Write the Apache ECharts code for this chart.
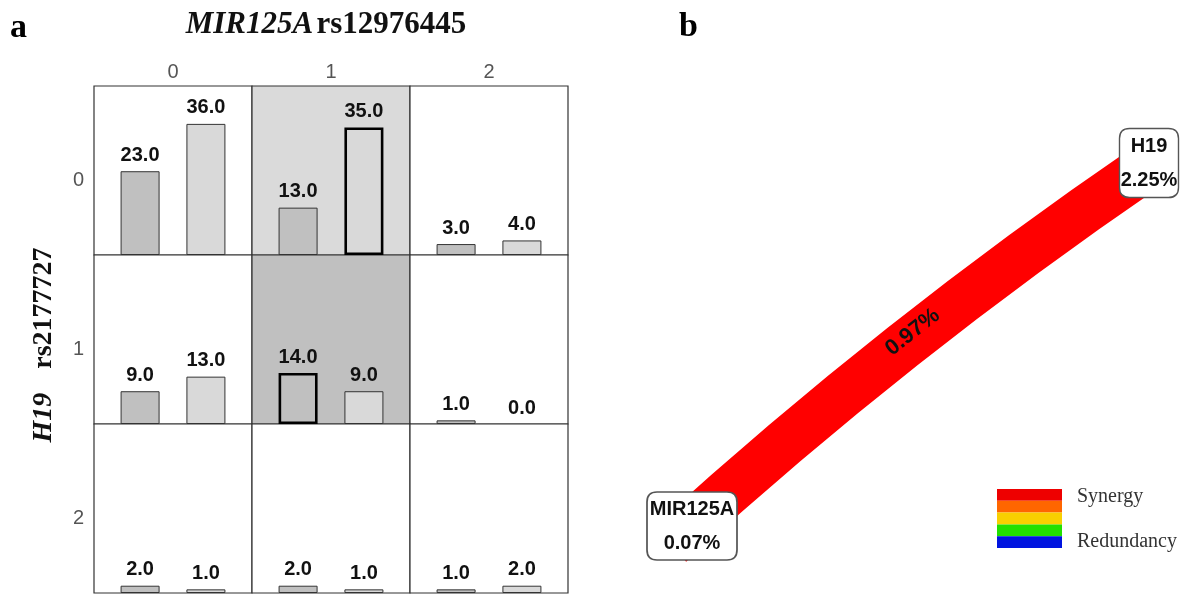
<!DOCTYPE html>
<html><head><meta charset="utf-8">
<script src="https://cdn.jsdelivr.net/npm/echarts@6/dist/echarts.min.js"></script>
<style>html,body{margin:0;padding:0;background:#fff}#c{width:1182px;height:596px}</style>
</head><body><div id="c"></div>
<script>
// ---- data ----
const mirGenotypes = ['0', '1', '2'];            // columns: MIR125A rs12976445
const h19Genotypes = ['0', '1', '2'];            // rows: H19 rs2177727
const caseCounts    = [[23, 13, 3], [9, 14, 1], [2, 2, 1]];
const controlCounts = [[36, 35, 4], [13, 9, 0], [1, 1, 2]];
const cellRisk = [['', 'low', ''], ['', 'high', ''], ['', '', '']];
const nodeNames = ['MIR125A', 'H19'];
const nodeEntropy = [0.07, 2.25];
const nodeX = [10, 105.6];
const nodeY = [10.4, 86];
const edgeEntropy = [0.97];
const legendLabels = ['Synergy', 'Redundancy'];

// ---- layout ----
const GX = 94, GY = 86, CW = 158, CH = 169;
const SANS = '"Liberation Sans", Arial, sans-serif';
const SERIF = '"Liberation Serif", "Times New Roman", serif';

const grids = [], xAxes = [], yAxes = [], series = [];
for (let r = 0; r < 3; r++) {
  for (let c = 0; c < 3; c++) {
    const idx = r * 3 + c;
    const risk = cellRisk[r][c];
    grids.push({
      left: GX + c * CW, top: GY + r * CH, width: CW, height: CH,
      show: true, borderColor: '#333', borderWidth: 1.2,
      backgroundColor: risk === 'low' ? '#dadada' : (risk === 'high' ? '#c0c0c0' : '#ffffff')
    });
    xAxes.push({
      type: 'value', gridIndex: idx, min: -0.7, max: 1.7, position: 'top',
      name: r === 0 ? mirGenotypes[c] : '', nameLocation: 'middle', nameGap: 4,
      nameTextStyle: { fontFamily: SANS, fontSize: 20, color: '#555' },
      axisLine: { show: false }, axisTick: { show: false }, axisLabel: { show: false }, splitLine: { show: false }
    });
    yAxes.push({
      type: 'value', gridIndex: idx, min: 0, max: 46.4,
      name: c === 0 ? h19Genotypes[r] : '', nameLocation: 'middle', nameRotate: 0, nameGap: 10,
      nameTextStyle: { fontFamily: SANS, fontSize: 20, color: '#555', verticalAlign: 'top' },
      axisLine: { show: false }, axisTick: { show: false }, axisLabel: { show: false }, splitLine: { show: false }
    });
    const cv = caseCounts[r][c], kv = controlCounts[r][c];
    const shaded = risk !== '';
    const boldCase = shaded && cv > kv, boldCtrl = shaded && kv >= cv;
    const bw = (v, bold) => v === 0 ? 0 : (bold ? 2.6 : 1);
    series.push({
      type: 'bar', xAxisIndex: idx, yAxisIndex: idx, barWidth: 39, silent: true,
      data: [
        { value: [0, cv], itemStyle: { color: '#c0c0c0', borderColor: boldCase ? '#000' : '#333', borderWidth: bw(cv, boldCase) } },
        { value: [1, kv], itemStyle: { color: '#d9d9d9', borderColor: boldCtrl ? '#000' : '#333', borderWidth: bw(kv, boldCtrl) } }
      ],
      label: {
        show: true, position: 'top', distance: 6,
        formatter: p => p.value[1].toFixed(1),
        fontFamily: SANS, fontWeight: 'bold', fontSize: 20, color: '#111'
      }
    });
  }
}

// right panel: interaction graph
grids.push({ left: 620, top: 96, width: 560, height: 500, show: false });
xAxes.push({ type: 'value', gridIndex: 9, min: 0, max: 112, show: false });
yAxes.push({ type: 'value', gridIndex: 9, min: 0, max: 100, show: false });

function rr(w, h, r) {
  return `path://M${r},0H${w - r}Q${w},0 ${w},${r}V${h - r}Q${w},${h} ${w - r},${h}H${r}Q0,${h} 0,${h - r}V${r}Q0,0 ${r},0Z`;
}
const boxSizes = [[90, 68], [59, 69]];
const boxOffsets = [[22, -18], [1, -3]];

series.push({
  type: 'lines', coordinateSystem: 'cartesian2d', xAxisIndex: 9, yAxisIndex: 9, silent: true, z: 2,
  data: [{ coords: [[nodeX[0], nodeY[0]], [nodeX[1], nodeY[1]]], value: edgeEntropy[0] }],
  lineStyle: { color: '#ff0000', width: 48, opacity: 1, curveness: 0.035, cap: 'butt' },
  label: {
    show: true, position: 'middle', distance: -6,
    padding: [0, 0, 0, 34],
    formatter: p => p.value.toFixed(2) + '%',
    fontFamily: SANS, fontWeight: 'bold', fontSize: 22, color: '#111'
  }
});
series.push({
  type: 'scatter', xAxisIndex: 9, yAxisIndex: 9, silent: true, z: 5,
  data: nodeNames.map((n, i) => ({
    name: n, value: [nodeX[i], nodeY[i]], pct: nodeEntropy[i],
    symbol: rr(boxSizes[i][0], boxSizes[i][1], 10),
    symbolSize: boxSizes[i], symbolOffset: boxOffsets[i]
  })),
  itemStyle: { color: '#ffffff', borderColor: '#555', borderWidth: 1.5, opacity: 1 },
  label: {
    show: true, position: 'inside',
    formatter: p => p.name + '\n' + p.data.pct.toFixed(2) + '%',
    fontFamily: SANS, fontWeight: 'bold', fontSize: 20, lineHeight: 34, color: '#111'
  }
});

// legend stripes
const stripeColors = ['#ee0000', '#ff6600', '#f8d000', '#22e000', '#0014e0'];
const graphics = [
  { type: 'text', left: 10, top: 11, style: { text: 'a', font: 'bold 34px ' + SERIF, fill: '#000' } },
  { type: 'text', left: 679, top: 10, style: { text: 'b', font: 'bold 34px ' + SERIF, fill: '#000' } },
  {
    type: 'text', x: 326, y: 25,
    style: {
      text: '{i|MIR125A} {b|rs12976445}', align: 'center', verticalAlign: 'middle',
      rich: {
        i: { fontFamily: SERIF, fontSize: 31, fontWeight: 'bold', fontStyle: 'italic', fill: '#111' },
        b: { fontFamily: SERIF, fontSize: 31, fontWeight: 'bold', fill: '#111' }
      }
    }
  },
  {
    type: 'text', x: 44, y: 345, rotation: Math.PI / 2,
    style: {
      text: '{i|H19}{b|rs2177727}', align: 'center', verticalAlign: 'middle',
      rich: {
        i: { fontFamily: SERIF, fontSize: 28, fontWeight: 'bold', fontStyle: 'italic', fill: '#111', padding: [0, 24, 0, 0] },
        b: { fontFamily: SERIF, fontSize: 28, fontWeight: 'bold', fill: '#111' }
      }
    }
  }
];
stripeColors.forEach((col, i) => {
  graphics.push({ type: 'rect', shape: { x: 997, y: 489 + i * 11.8, width: 65, height: 11.8 }, style: { fill: col } });
});
graphics.push({ type: 'text', x: 1077, y: 497, style: { text: legendLabels[0], font: '20px ' + SERIF, fill: '#333', verticalAlign: 'middle' } });
graphics.push({ type: 'text', x: 1077, y: 542, style: { text: legendLabels[1], font: '20px ' + SERIF, fill: '#333', verticalAlign: 'middle' } });

const chart = echarts.init(document.getElementById('c'), null, { renderer: 'canvas' });
chart.setOption({
  animation: false,
  backgroundColor: '#ffffff',
  grid: grids, xAxis: xAxes, yAxis: yAxes,
  series: series,
  graphic: graphics
});
</script>
</body></html>
